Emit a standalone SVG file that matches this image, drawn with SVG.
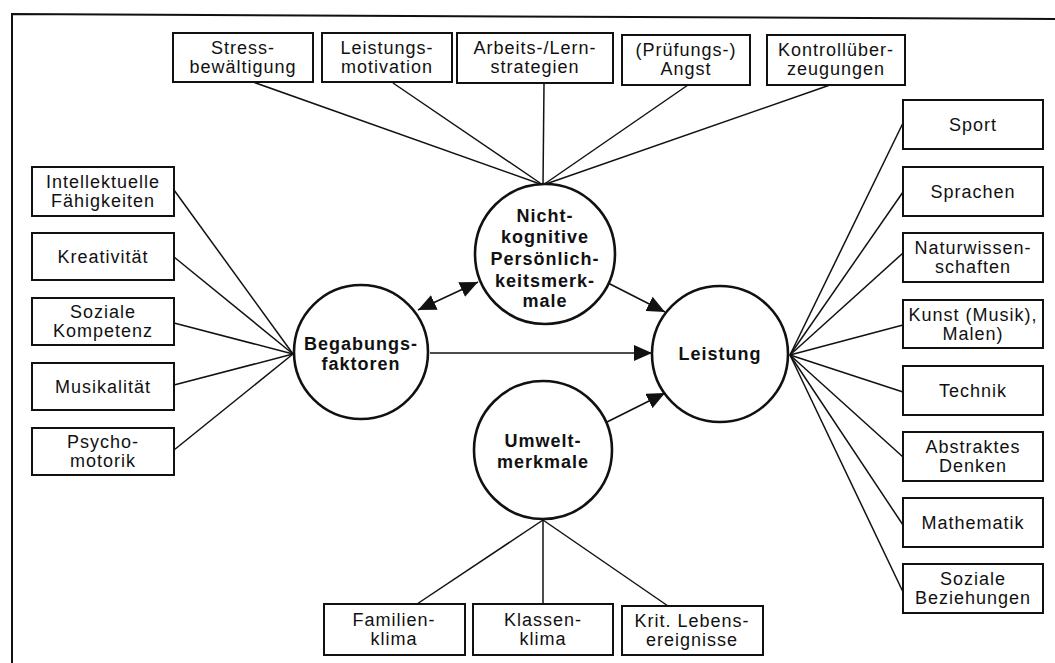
<svg xmlns="http://www.w3.org/2000/svg" width="1055" height="663" viewBox="0 0 1055 663">
<defs>
<style>
.bg{fill:#fff}
.frame{fill:none;stroke:#111;stroke-width:2}
.box{fill:#fff;stroke:#111;stroke-width:2}
.circ{fill:#fff;stroke:#111;stroke-width:2.6}
.ln{fill:none;stroke:#111;stroke-width:1.5}
.arr{fill:none;stroke:#111;stroke-width:1.6}
.t{font-family:"Liberation Sans",Arial,sans-serif;font-size:18px;letter-spacing:1px;fill:#111;text-anchor:middle}
.b{font-family:"Liberation Sans",Arial,sans-serif;font-size:18px;font-weight:bold;letter-spacing:1px;fill:#111;text-anchor:middle}
</style>
<marker id="ah" viewBox="0 0 18 16" refX="18" refY="8" markerWidth="18" markerHeight="16" markerUnits="userSpaceOnUse" orient="auto-start-reverse">
<path d="M0,0 L18,8 L0,16 Z" fill="#111"/>
</marker>
</defs>
<rect class="bg" x="0" y="0" width="1055" height="663"/>
<path class="frame" d="M12,663 L12,14 L1055,19"/>

<g id="connectors">
<line class="ln" x1="543" y1="185" x2="253" y2="82"/>
<line class="ln" x1="543" y1="185" x2="393" y2="83"/>
<line class="ln" x1="543" y1="185" x2="544" y2="84"/>
<line class="ln" x1="543" y1="185" x2="688" y2="85"/>
<line class="ln" x1="543" y1="185" x2="830" y2="85"/>
<line class="ln" x1="293" y1="354" x2="174" y2="190"/>
<line class="ln" x1="293" y1="354" x2="174" y2="257"/>
<line class="ln" x1="293" y1="354" x2="174" y2="323"/>
<line class="ln" x1="293" y1="354" x2="174" y2="385"/>
<line class="ln" x1="293" y1="354" x2="174" y2="450"/>
<line class="ln" x1="790" y1="355" x2="903" y2="123"/>
<line class="ln" x1="790" y1="355" x2="903" y2="192"/>
<line class="ln" x1="790" y1="355" x2="903" y2="253"/>
<line class="ln" x1="790" y1="355" x2="903" y2="325"/>
<line class="ln" x1="790" y1="355" x2="903" y2="392"/>
<line class="ln" x1="790" y1="355" x2="903" y2="457"/>
<line class="ln" x1="790" y1="355" x2="903" y2="525"/>
<line class="ln" x1="790" y1="355" x2="903" y2="592"/>
<line class="ln" x1="543" y1="520" x2="417" y2="604"/>
<line class="ln" x1="543" y1="520" x2="543" y2="604"/>
<line class="ln" x1="543" y1="520" x2="668" y2="606"/>
<line class="arr" x1="418" y1="310" x2="478" y2="282" marker-start="url(#ah)" marker-end="url(#ah)"/>
<line class="arr" x1="608" y1="283" x2="665" y2="312" marker-end="url(#ah)"/>
<line class="arr" x1="430" y1="353" x2="652" y2="353" marker-end="url(#ah)"/>
<line class="arr" x1="607" y1="422" x2="665" y2="393" marker-end="url(#ah)"/>
</g>

<g id="n-stress"><rect class="box" x="173" y="33" width="140" height="49"/><text class="t" x="243" y="54">Stress-</text><text class="t" x="243" y="73">bewältigung</text></g>
<g id="n-leistungsmotivation"><rect class="box" x="322" y="33" width="130" height="49"/><text class="t" x="387" y="54">Leistungs-</text><text class="t" x="387" y="73">motivation</text></g>
<g id="n-arbeits"><rect class="box" x="457" y="33" width="156" height="50"/><text class="t" x="535" y="54">Arbeits-/Lern-</text><text class="t" x="535" y="73">strategien</text></g>
<g id="n-angst"><rect class="box" x="622" y="35" width="128" height="50"/><text class="t" x="686" y="56">(Prüfungs-)</text><text class="t" x="686" y="75">Angst</text></g>
<g id="n-kontroll"><rect class="box" x="767" y="35" width="138" height="50"/><text class="t" x="836" y="56">Kontrollüber-</text><text class="t" x="836" y="75">zeugungen</text></g>

<g id="n-intellektuelle"><rect class="box" x="32" y="167" width="142" height="49"/><text class="t" x="103" y="188">Intellektuelle</text><text class="t" x="103" y="207">Fähigkeiten</text></g>
<g id="n-kreativitaet"><rect class="box" x="32" y="233" width="142" height="47"/><text class="t" x="103" y="263">Kreativität</text></g>
<g id="n-sozialekompetenz"><rect class="box" x="32" y="298" width="142" height="47"/><text class="t" x="103" y="318">Soziale</text><text class="t" x="103" y="337">Kompetenz</text></g>
<g id="n-musikalitaet"><rect class="box" x="32" y="363" width="142" height="47"/><text class="t" x="103" y="393">Musikalität</text></g>
<g id="n-psychomotorik"><rect class="box" x="32" y="428" width="142" height="47"/><text class="t" x="103" y="448">Psycho-</text><text class="t" x="103" y="467">motorik</text></g>

<g id="n-begabung"><circle class="circ" cx="361" cy="352" r="67"/><text class="b" x="361" y="350">Begabungs-</text><text class="b" x="361" y="370">faktoren</text></g>
<g id="n-nichtkognitiv"><circle class="circ" cx="545" cy="254" r="70"/><text class="b" x="545" y="222">Nicht-</text><text class="b" x="545" y="243">kognitive</text><text class="b" x="545" y="265">Persönlich-</text><text class="b" x="545" y="287">keitsmerk-</text><text class="b" x="545" y="307">male</text></g>
<g id="n-umwelt"><circle class="circ" cx="543" cy="450" r="69"/><text class="b" x="543" y="447">Umwelt-</text><text class="b" x="543" y="468">merkmale</text></g>
<g id="n-leistung"><circle class="circ" cx="720" cy="354" r="68"/><text class="b" x="720" y="360">Leistung</text></g>

<g id="n-sport"><rect class="box" x="903" y="100" width="140" height="49"/><text class="t" x="973" y="131">Sport</text></g>
<g id="n-sprachen"><rect class="box" x="903" y="167" width="140" height="49"/><text class="t" x="973" y="198">Sprachen</text></g>
<g id="n-naturwissenschaften"><rect class="box" x="903" y="233" width="140" height="49"/><text class="t" x="973" y="254">Naturwissen-</text><text class="t" x="973" y="273">schaften</text></g>
<g id="n-kunst"><rect class="box" x="903" y="300" width="140" height="48"/><text class="t" x="973" y="321">Kunst (Musik),</text><text class="t" x="973" y="340">Malen)</text></g>
<g id="n-technik"><rect class="box" x="903" y="366" width="140" height="49"/><text class="t" x="973" y="397">Technik</text></g>
<g id="n-abstraktes"><rect class="box" x="903" y="432" width="140" height="49"/><text class="t" x="973" y="453">Abstraktes</text><text class="t" x="973" y="472">Denken</text></g>
<g id="n-mathematik"><rect class="box" x="903" y="498" width="140" height="49"/><text class="t" x="973" y="529">Mathematik</text></g>
<g id="n-sozialebeziehungen"><rect class="box" x="903" y="564" width="140" height="49"/><text class="t" x="973" y="585">Soziale</text><text class="t" x="973" y="604">Beziehungen</text></g>

<g id="n-familienklima"><rect class="box" x="324" y="604" width="141" height="51"/><text class="t" x="394" y="626">Familien-</text><text class="t" x="394" y="645">klima</text></g>
<g id="n-klassenklima"><rect class="box" x="473" y="604" width="140" height="51"/><text class="t" x="543" y="626">Klassen-</text><text class="t" x="543" y="645">klima</text></g>
<g id="n-lebensereignisse"><rect class="box" x="622" y="606" width="141" height="49"/><text class="t" x="692" y="627">Krit. Lebens-</text><text class="t" x="692" y="646">ereignisse</text></g>
</svg>
